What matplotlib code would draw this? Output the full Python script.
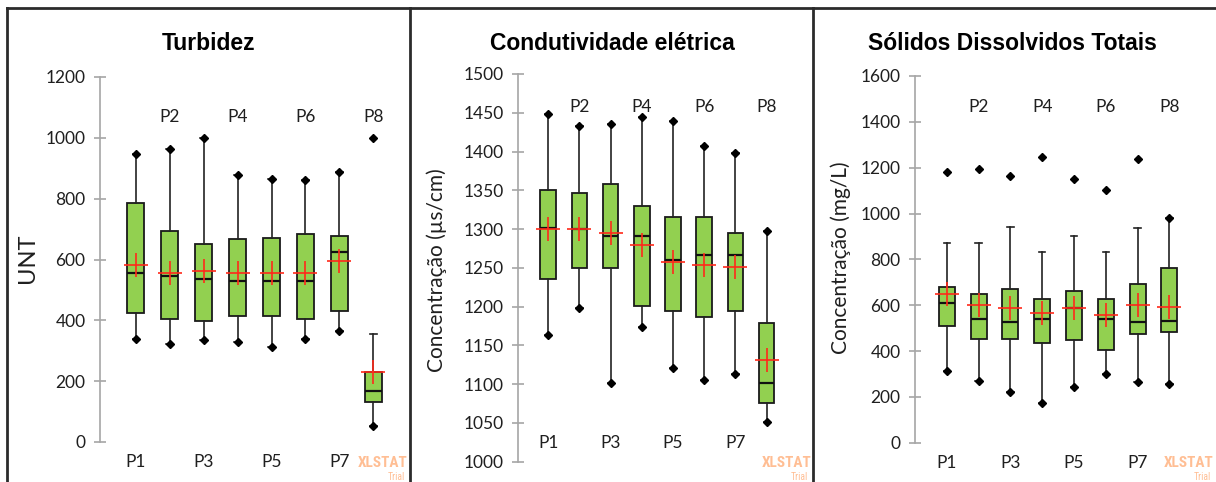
import matplotlib.pyplot as plt
from matplotlib.lines import Line2D
import matplotlib.transforms as mtransforms

W, H = 1216, 482

points = ['P1', 'P2', 'P3', 'P4', 'P5', 'P6', 'P7', 'P8']

# Turbidez (UNT)
turb_q1 = [423, 403, 398, 414, 414, 403, 431, 130]
turb_med = [557, 546, 535, 530, 530, 530, 625, 167]
turb_q3 = [787, 693, 651, 666, 672, 683, 677, 230]
turb_mean = [582, 557, 561, 555, 557, 557, 594, 230]
turb_whislo = [340, 323, 334, 329, 312, 340, 366, 52]
turb_whishi = [947, 963, 1000, 877, 866, 861, 888, 356]
turb_min = [340, 323, 334, 329, 312, 340, 366, 52]
turb_max = [947, 963, 1000, 877, 866, 861, 888, 1000]

# Condutividade elétrica (µs/cm)
cond_q1 = [1236, 1250, 1250, 1201, 1194, 1186, 1194, 1076]
cond_med = [1301, 1300, 1291, 1291, 1260, 1266, 1266, 1102]
cond_q3 = [1351, 1347, 1358, 1330, 1316, 1316, 1295, 1179]
cond_mean = [1300, 1300, 1295, 1280, 1258, 1254, 1251, 1131]
cond_whislo = [1164, 1198, 1101, 1174, 1121, 1105, 1113, 1051]
cond_whishi = [1448, 1433, 1436, 1444, 1440, 1407, 1398, 1297]
cond_min = [1164, 1198, 1101, 1174, 1121, 1105, 1113, 1051]
cond_max = [1448, 1433, 1436, 1444, 1440, 1407, 1398, 1297]

# Sólidos dissolvidos totais (mg/L)
sdt_q1 = [509, 454, 454, 434, 447, 404, 474, 482]
sdt_med = [608, 538, 525, 538, 586, 538, 525, 531]
sdt_q3 = [681, 650, 671, 628, 663, 628, 691, 761]
sdt_mean = [649, 601, 586, 567, 586, 557, 602, 593]
sdt_whislo = [314, 271, 223, 172, 241, 298, 263, 256]
sdt_whishi = [873, 873, 943, 831, 902, 831, 935, 979]
sdt_min = [314, 271, 223, 172, 241, 298, 263, 256]
sdt_max = [1180, 1193, 1165, 1248, 1151, 1103, 1236, 979]

turb_ticks = [0, 200, 400, 600, 800, 1000, 1200]
cond_ticks = [1000, 1050, 1100, 1150, 1200, 1250, 1300, 1350, 1400, 1450, 1500]
sdt_ticks = [0, 200, 400, 600, 800, 1000, 1200, 1400, 1600]

BOX_GREEN = '#92D050'
MEAN_RED = '#FF2A1A'
AXIS_GRAY = '#A6A6A6'
TEXT_COLOR = '#1f1f1f'
MARK_COLOR = '#FF8A3D'
LABEL_FONT = ['Lato', 'DejaVu Sans']
TITLE_FONT = ['Liberation Sans', 'DejaVu Sans']
MARK_FONT = ['Roboto Condensed', 'Roboto', 'DejaVu Sans']


def make_stats(q1, med, q3, mean, lo, hi):
    return [dict(q1=a, med=b, q3=c, mean=d, whislo=e, whishi=f, fliers=[])
            for a, b, c, d, e, f in zip(q1, med, q3, mean, lo, hi)]


panels = [
    dict(title='Turbidez', ylabel='UNT',
         stats=make_stats(turb_q1, turb_med, turb_q3, turb_mean, turb_whislo, turb_whishi),
         mins=turb_min, maxs=turb_max, ticks=turb_ticks,
         left=100, top=77, bottom=442, step=33.9, xmin=-0.06,
         even_y=0.89, odd_y=-0.055, title_x=209, ylabel_x=27, ylabel_y=258,
         mark_right=408, ylabel_size=17),
    dict(title='Condutividade elétrica', ylabel='Concentração (µs/cm)',
         stats=make_stats(cond_q1, cond_med, cond_q3, cond_mean, cond_whislo, cond_whishi),
         mins=cond_min, maxs=cond_max, ticks=cond_ticks,
         left=518, top=74, bottom=461.7, step=31.2, xmin=0.03,
         even_y=0.915, odd_y=0.048, title_x=612, ylabel_x=437, ylabel_y=270,
         mark_right=811, ylabel_size=15),
    dict(title='Sólidos Dissolvidos Totais', ylabel='Concentração (mg/L)',
         stats=make_stats(sdt_q1, sdt_med, sdt_q3, sdt_mean, sdt_whislo, sdt_whishi),
         mins=sdt_min, maxs=sdt_max, ticks=sdt_ticks,
         left=915, top=76, bottom=442.7, step=31.8, xmin=0.0,
         even_y=0.915, odd_y=-0.055, title_x=1012, ylabel_x=841, ylabel_y=258,
         mark_right=1214, ylabel_size=15),
]

fig = plt.figure(figsize=(W / 100, H / 100), dpi=100)
fig.patch.set_facecolor('white')

positions = list(range(1, len(points) + 1))
XMAX = 8.6

for p in panels:
    width_px = (XMAX - p['xmin']) * p['step']
    ax = fig.add_axes([p['left'] / W, (H - p['bottom']) / H,
                       width_px / W, (p['bottom'] - p['top']) / H])
    ax.set_facecolor('none')

    ax.bxp(p['stats'], positions=positions, widths=0.5, patch_artist=True,
           showmeans=True, showfliers=False, showcaps=True, capwidths=0.2,
           boxprops=dict(facecolor=BOX_GREEN, edgecolor='#1a1a1a', linewidth=1.3),
           medianprops=dict(color='#111111', linewidth=1.6),
           whiskerprops=dict(color='#222222', linewidth=1.2),
           capprops=dict(color='#222222', linewidth=1.2),
           meanprops=dict(marker='+', markeredgecolor=MEAN_RED, markersize=17,
                          markeredgewidth=1.2, zorder=5))

    # minimum / maximum of each sample
    ax.plot(positions, p['mins'], 'D', color='black', ms=4.5, ls='none', clip_on=False, zorder=6)
    ax.plot(positions, p['maxs'], 'D', color='black', ms=4.5, ls='none', clip_on=False, zorder=6)

    ax.set_xlim(p['xmin'], XMAX)
    ax.set_ylim(p['ticks'][0], p['ticks'][-1])
    ax.set_yticks(p['ticks'])
    ax.set_xticks([])
    for side in ['top', 'right', 'bottom']:
        ax.spines[side].set_visible(False)
    ax.spines['left'].set_color(AXIS_GRAY)
    ax.spines['left'].set_linewidth(1.2)
    ax.tick_params(axis='y', direction='inout', length=9, width=1.2,
                   color=AXIS_GRAY, labelcolor=TEXT_COLOR, pad=6)
    for lab in ax.get_yticklabels():
        lab.set_family(LABEL_FONT)
        lab.set_fontsize(12.5)

    # staggered category labels
    trans = mtransforms.blended_transform_factory(ax.transData, ax.transAxes)
    for i, name in enumerate(points):
        yy = p['even_y'] if i % 2 else p['odd_y']
        ax.text(positions[i], yy, name, transform=trans, ha='center', va='center',
                fontsize=12.5, family=LABEL_FONT, color=TEXT_COLOR, clip_on=False)

    fig.text(p['title_x'] / W, 1 - 43 / H, p['title'], ha='center', va='center',
             fontsize=16.5, fontweight='bold', family=TITLE_FONT, color='black')
    fig.text(p['ylabel_x'] / W, 1 - p['ylabel_y'] / H, p['ylabel'], rotation=90,
             ha='center', va='center', fontsize=p['ylabel_size'],
             family=LABEL_FONT, color=TEXT_COLOR)

    # software watermark
    fig.text(p['mark_right'] / W, 1 - 463 / H, 'XLSTAT', ha='right', va='center',
             fontsize=11, fontweight='bold', family=MARK_FONT,
             color=MARK_COLOR, alpha=0.55)
    fig.text((p['mark_right'] - 3) / W, 1 - 477 / H, 'Trial', ha='right', va='center',
             fontsize=7, family=MARK_FONT, color=MARK_COLOR, alpha=0.55)

# panel frames
frame = dict(transform=fig.transFigure, color='#2b2b2b', linewidth=2)
fig.add_artist(Line2D([7 / W, 1], [1 - 8 / H, 1 - 8 / H], **frame))
for xpix in [7, 410, 813]:
    fig.add_artist(Line2D([xpix / W, xpix / W], [0, 1 - 8 / H], **frame))

fig.savefig('out.png', dpi=100)
